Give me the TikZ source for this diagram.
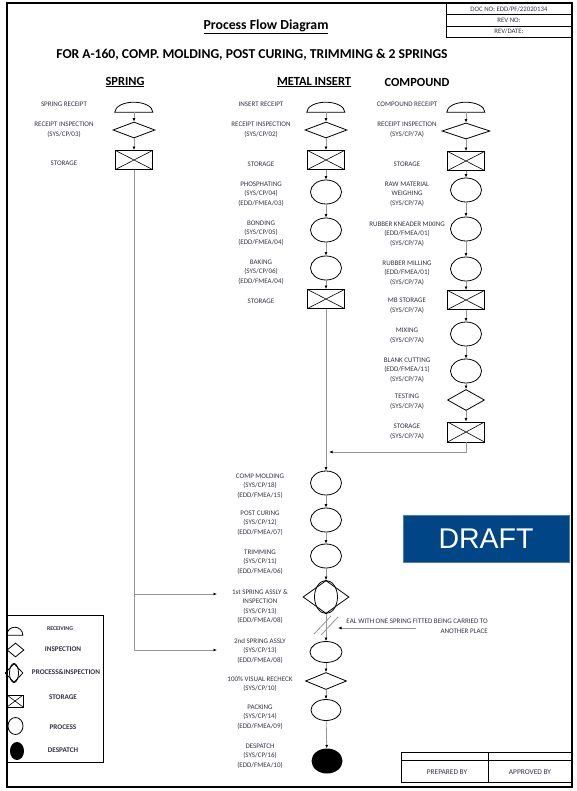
\documentclass[tikz,border=0pt]{standalone}
\usepackage{fontspec}
\setmainfont{Carlito}
\newfontfamily\draftfont{Liberation Sans}
\usepackage{tikz}
\usetikzlibrary{arrows.meta,shapes.geometric}
\definecolor{linegray}{RGB}{150,150,150}
\definecolor{txtgray}{RGB}{50,50,65}
\definecolor{draftblue}{RGB}{0,70,135}
\newcommand{\recvshape}[3]{\draw[line width=0.8pt] (#1.south west) arc[start angle=180, end angle=0, x radius=#2, y radius=#3] -- cycle;}

\begin{document}
\begin{tikzpicture}[x=1pt, y=-1pt]
        \tikzset{lbl/.style = {align=center, text=txtgray, inner sep=0pt,
                font=\fontsize{7}{9.6}\selectfont}}
        \tikzset{leg/.style = {text=txtgray, inner sep=0pt,
                font=\fontsize{7.2}{8}\selectfont\bfseries}}
        \tikzset{recv/.style = {shape=rectangle, minimum width=38pt,
                minimum height=10pt, inner sep=0pt}}
        \tikzset{insp/.style = {shape=diamond, draw, line width=0.8pt,
                minimum width=42pt, minimum height=16pt, inner sep=0pt}}
        \tikzset{pinsp/.style = {shape=diamond, draw, line width=0.8pt,
                minimum width=46pt, minimum height=33pt, inner sep=0pt}}
        \tikzset{store/.style = {shape=rectangle, draw, line width=0.9pt,
                minimum width=37pt, minimum height=19pt, inner sep=0pt,
                path picture={\draw[line width=0.6pt]
                (path picture bounding box.north west) -- (path picture bounding box.south east)
                (path picture bounding box.north east) -- (path picture bounding box.south west);}}}
        \tikzset{proc/.style = {shape=ellipse, draw, line width=0.8pt,
                minimum width=31pt, minimum height=24pt, inner sep=0pt}}
        \tikzset{desp/.style = {shape=ellipse, fill=black,
                minimum width=31pt, minimum height=25pt, inner sep=0pt}}
        \tikzset{flow/.style = {draw=linegray, line width=0.8pt,
                -{Latex[length=3.5pt, width=3pt, black]}}}
        \tikzset{edge/.style = {draw=linegray, line width=0.8pt}}

        \useasboundingbox (0,0) rectangle (577,791);
        \draw[line width=1.2pt] (7,3) rectangle (572,787);

        % header
        \draw[line width=0.8pt] (446,3) rectangle (572,37);
        \draw[line width=0.8pt] (446,14.5) -- (572,14.5);
        \draw[line width=0.8pt] (446,26) -- (572,26);
        \node[lbl, font=\fontsize{6.8}{8}\selectfont] (docno) at (509,9) {DOC NO: EDD/PF/22020134};
        \node[lbl, font=\fontsize{6.8}{8}\selectfont] (revno) at (509,20) {REV NO:};
        \node[lbl, font=\fontsize{6.8}{8}\selectfont] (revdate) at (509,31.5) {REV/DATE:};

        \node[font=\fontsize{13.8}{16}\selectfont\bfseries] (title) at (266,27) {\underline{Process Flow Diagram}};
        \node[font=\fontsize{13.6}{16}\selectfont\bfseries] (sub) at (252,55) {FOR A-160, COMP. MOLDING, POST CURING, TRIMMING \& 2 SPRINGS};
        \node[font=\fontsize{12.4}{14}\selectfont\bfseries] (hspr) at (125,82) {\underline{SPRING}};
        \node[font=\fontsize{12.4}{14}\selectfont\bfseries] (hins) at (314,82) {\underline{METAL INSERT}};
        \node[font=\fontsize{12.4}{14}\selectfont\bfseries] (hcmp) at (417,82) {COMPOUND};

        % spring
        \node[recv] (sr) at (134,107) {};
        \recvshape{sr}{19pt}{10pt}
        \node[insp] (si) at (134,130) {};
        \node[store] (ss) at (134,160) {};

        \node[lbl] (lsr) at (64,104) {SPRING RECEIPT};
        \node[lbl] (lsi) at (64,129.5) {RECEIPT INSPECTION\\(SYS/CP/03)};
        \node[lbl] (lss) at (64,163.5) {STORAGE};

        % metal insert
        \node[recv] (mr) at (326,107) {};
        \recvshape{mr}{19pt}{10pt}
        \node[insp] (mi) at (326,130) {};
        \node[store] (ms1) at (326,160) {};
        \node[proc] (p1) at (326,192) {};
        \node[proc] (p2) at (326,230) {};
        \node[proc] (p3) at (326,268) {};
        \node[store] (ms2) at (326,299) {};

        \node[lbl] (lmr) at (261,104) {INSERT RECEIPT};
        \node[lbl] (lmi) at (261,129.5) {RECEIPT INSPECTION\\(SYS/CP/02)};
        \node[lbl] (lms1) at (261,164) {STORAGE};
        \node[lbl] (lp1) at (261,194) {PHOSPHATING\\(SYS/CP/04)\\(EDD/FMEA/03)};
        \node[lbl] (lp2) at (261,233) {BONDING\\(SYS/CP/05)\\(EDD/FMEA/04)};
        \node[lbl] (lp3) at (261,272) {BAKING\\(SYS/CP/06)\\(EDD/FMEA/04)};
        \node[lbl] (lms2) at (261,301) {STORAGE};

        % compound
        \node[recv] (cr) at (466,107) {};
        \recvshape{cr}{19pt}{10pt}
        \node[insp, minimum width=48pt] (ci) at (466,131) {};
        \node[store] (cs1) at (466,161) {};
        \node[proc] (c1) at (466,190) {};
        \node[proc] (c2) at (466,229) {};
        \node[proc] (c3) at (466,269) {};
        \node[store] (cs2) at (466,300) {};
        \node[proc] (c4) at (466,334) {};
        \node[proc] (c5) at (466,371) {};
        \node[insp, minimum width=37pt, minimum height=21pt] (ct) at (466,400) {};
        \node[store, minimum height=20pt] (cs3) at (466,432) {};

        \node[lbl] (lcr) at (407,104) {COMPOUND RECEIPT};
        \node[lbl] (lci) at (407,129.5) {RECEIPT INSPECTION\\(SYS/CP/7A)};
        \node[lbl] (lcs1) at (407,164) {STORAGE};
        \node[lbl] (lc1) at (407,194) {RAW MATERIAL\\WEIGHING\\(SYS/CP/7A)};
        \node[lbl] (lc2) at (407,234) {RUBBER KNEADER MIXING\\(EDD/FMEA/01)\\(SYS/CP/7A)};
        \node[lbl] (lc3) at (407,273) {RUBBER MILLING\\(EDD/FMEA/01)\\(SYS/CP/7A)};
        \node[lbl] (lcs2) at (407,306) {MB STORAGE\\(SYS/CP/7A)};
        \node[lbl] (lc4) at (407,336) {MIXING\\(SYS/CP/7A)};
        \node[lbl] (lc5) at (407,370) {BLANK CUTTING\\(EDD/FMEA/11)\\(SYS/CP/7A)};
        \node[lbl] (lct) at (407,402) {TESTING\\(SYS/CP/7A)};
        \node[lbl] (lcs3) at (407,432) {STORAGE\\(SYS/CP/7A)};

        % final line
        \node[proc] (f1) at (326,483) {};
        \node[proc] (f2) at (326,520) {};
        \node[proc] (f3) at (326,556) {};
        \node[pinsp] (f4) at (326,597) {};
        \draw[line width=0.8pt] (f4.center) ellipse [x radius=11.5pt, y radius=16.5pt];
        \node[proc, minimum width=32pt, minimum height=21pt] (f5) at (326,652) {};
        \node[insp, minimum width=41pt, minimum height=17pt] (f6) at (326,681) {};
        \node[proc, minimum width=30pt, minimum height=21pt] (f7) at (326,710) {};
        \node[desp] (f8) at (327,761) {};

        \node[lbl] (lf1) at (260,486) {COMP MOLDING\\(SYS/CP/18)\\(EDD/FMEA/15)};
        \node[lbl] (lf2) at (260,523) {POST CURING\\(SYS/CP/12)\\(EDD/FMEA/07)};
        \node[lbl] (lf3) at (260,562) {TRIMMING\\(SYS/CP/11)\\(EDD/FMEA/06)};
        \node[lbl] (lf4) at (260,606.5) {1st SPRING ASSLY \&\\INSPECTION\\(SYS/CP/13)\\(EDD/FMEA/08)};
        \node[lbl] (lf5) at (260,651) {2nd SPRING ASSLY\\(SYS/CP/13)\\(EDD/FMEA/08)};
        \node[lbl] (lf6) at (260,684) {100\% VISUAL RECHECK\\(SYS/CP/10)};
        \node[lbl] (lf7) at (260,717) {PACKING\\(SYS/CP/14)\\(EDD/FMEA/09)};
        \node[lbl] (lf8) at (260,756) {DESPATCH\\(SYS/CP/16)\\(EDD/FMEA/10)};

        % connectors
        \draw[flow] (sr) to (si);
        \draw[flow] (si) to (ss);
        \draw[flow] (mr) to (mi);
        \draw[flow] (mi) to (ms1);
        \draw[flow] (ms1) to (p1);
        \draw[flow] (p1) to (p2);
        \draw[flow] (p2) to (p3);
        \draw[flow] (p3) to (ms2);
        \draw[flow] (cr) to (ci);
        \draw[flow] (ci) to (cs1);
        \draw[flow] (cs1) to (c1);
        \draw[flow] (c1) to (c2);
        \draw[flow] (c2) to (c3);
        \draw[flow] (c3) to (cs2);
        \draw[flow] (cs2) to (c4);
        \draw[flow] (c4) to (c5);
        \draw[flow] (c5) to (ct);
        \draw[flow] (ct) to (cs3);

        \coordinate (mj) at (329,452);
        \draw[flow] (cs3) |- (mj);
        \draw[flow] (ms2) to (f1);
        \draw[flow] (f1) to (f2);
        \draw[flow] (f2) to (f3);
        \draw[flow] (f3) to (f4);
        \draw[flow] (f4) to (f5);
        \draw[flow] (f5) to (f6);
        \draw[flow] (f6) to (f7);
        \draw[flow] (f7) to (f8);

        \coordinate (sb) at (134,594);
        \coordinate (sp1) at (217,594);
        \coordinate (sp2) at (217,650);
        \draw[flow] (ss) |- (sp2);
        \draw[flow] (sb) to (sp1);

        % break and note
        \draw[edge] (314,634) -- (331,616);
        \draw[edge] (321,635) -- (338,617);
        \coordinate (nt) at (416,628);
        \coordinate (nb) at (338,628);
        \draw[flow] (nt) to (nb);
        \node[lbl, anchor=east] (nt1) at (488,621.5) {EAL WITH ONE SPRING FITTED BEING CARRIED TO};
        \node[lbl, anchor=east] (nt2) at (488,631) {ANOTHER PLACE};

        % draft
        \node[fill=draftblue, draw=draftblue!70!white, minimum width=166pt, minimum height=47pt,
                text=white, font=\draftfont\fontsize{28.5}{30}\selectfont] (draft) at (486,538.5) {DRAFT};

        % legend
        \draw[line width=1pt] (7,615) rectangle (103,762);
        \node[recv, minimum width=16pt, minimum height=8pt] (g1) at (15,631) {};
        \recvshape{g1}{8pt}{8pt}
        \node[insp, minimum width=17pt, minimum height=14pt] (g2) at (15.5,650) {};
        \node[pinsp, minimum width=18pt, minimum height=19pt] (g3) at (14,673) {};
        \draw[line width=0.8pt] (g3.center) ellipse [x radius=4.5pt, y radius=9.5pt];
        \node[store, minimum width=16pt, minimum height=12pt, line width=0.8pt] (g4) at (15,701) {};
        \node[proc, minimum width=15pt, minimum height=17pt] (g5) at (15.5,726) {};
        \node[desp, minimum width=14pt, minimum height=18pt] (g6) at (17,751) {};
        \node[leg, font=\fontsize{5.8}{7}\selectfont\bfseries] (lg1) at (60,629) {RECEIVING};
        \node[leg] (lg2) at (63,649) {INSPECTION};
        \node[leg] (lg3) at (66,672) {PROCESS\&INSPECTION};
        \node[leg] (lg4) at (63,697) {STORAGE};
        \node[leg] (lg5) at (63,727) {PROCESS};
        \node[leg] (lg6) at (63,750) {DESPATCH};

        % sign box
        \draw[line width=1pt] (401,752) rectangle (572,782);
        \draw[line width=0.8pt] (401,760) -- (572,760);
        \draw[line width=0.8pt] (488,752) -- (488,782);
        \node[lbl, font=\fontsize{7.4}{8}\selectfont] (prep) at (447,772) {PREPARED BY};
        \node[lbl, font=\fontsize{7.4}{8}\selectfont] (appr) at (530,772) {APPROVED BY};
    \end{tikzpicture}
\end{document}
